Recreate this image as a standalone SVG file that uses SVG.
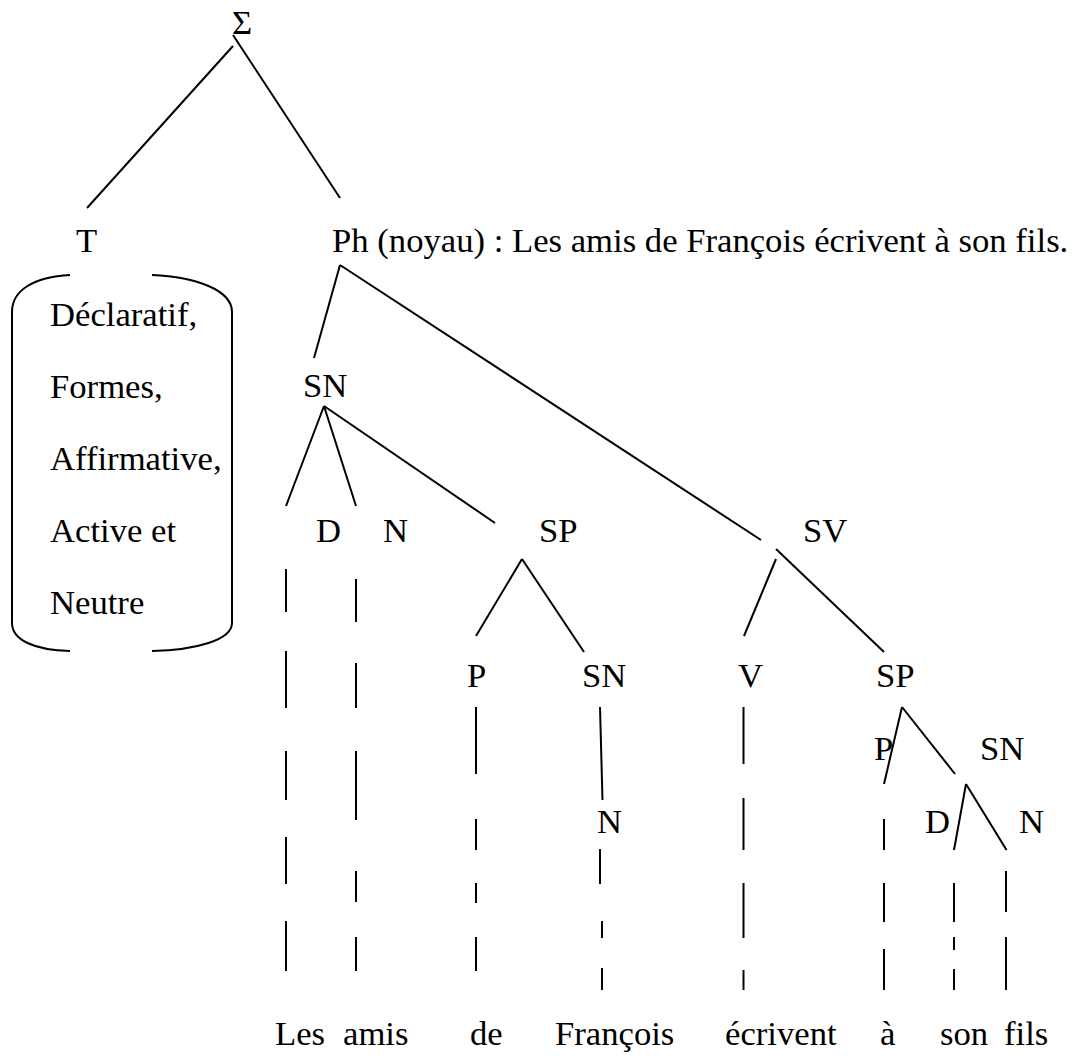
<svg xmlns="http://www.w3.org/2000/svg" width="1075" height="1061" viewBox="0 0 1075 1061">
  <style>
    text { font-family: "Liberation Serif", "Times New Roman", serif; font-size: 34.67px; fill: #000; }
    .edge { stroke: #000; stroke-width: 2; fill: none; stroke-linecap: butt; }
    .brace { stroke: #000; stroke-width: 2; fill: none; }
  </style>
  <rect width="1075" height="1061" fill="#fff"/>

  <!-- tree branches and dashed leaf links -->
  <g id="connectors">
    <line class="edge" x1="233" y1="46" x2="87" y2="208"/>
    <line class="edge" x1="233" y1="35" x2="340" y2="198"/>
    <line class="edge" x1="340" y1="265" x2="314" y2="358"/>
    <line class="edge" x1="340" y1="265" x2="761" y2="540"/>
    <line class="edge" x1="324" y1="406" x2="286" y2="506"/>
    <line class="edge" x1="324" y1="406" x2="356" y2="506"/>
    <line class="edge" x1="324" y1="406" x2="495" y2="523"/>
    <line class="edge" x1="522" y1="559" x2="476" y2="636"/>
    <line class="edge" x1="522" y1="559" x2="584" y2="652"/>
    <line class="edge" x1="776" y1="559" x2="744" y2="636"/>
    <line class="edge" x1="776" y1="549" x2="884" y2="652"/>
    <line class="edge" x1="600" y1="707" x2="602.5" y2="800"/>
    <line class="edge" x1="902" y1="707" x2="884" y2="784"/>
    <line class="edge" x1="902" y1="707" x2="955" y2="774"/>
    <line class="edge" x1="966" y1="784" x2="954" y2="850"/>
    <line class="edge" x1="966" y1="784" x2="1006.5" y2="850"/>

    <!-- leaf links, drawn as broken verticals -->
    <path class="edge" d="M286 569V612M286 651V708M286 751V800M286 837V884M286 921V971"/>
    <path class="edge" d="M356 579V622M356 663V708M356 751V820M356 871V902M356 937V971"/>
    <path class="edge" d="M476 707V774M476 819V850M476 883V903M476 937V971"/>
    <path class="edge" d="M600 849V884M602 921V938M602 968V990"/>
    <path class="edge" d="M743.5 707V764M743.5 798V850M743.5 883V938M743.5 970V990"/>
    <path class="edge" d="M884 819V850M884 883V922M884 949V990"/>
    <path class="edge" d="M954 883V922M954 937V950M954 969V990"/>
    <path class="edge" d="M1006 871V912M1006 937V990"/>
  </g>

  <g id="node-sigma"><text x="242" y="34" text-anchor="middle">Σ</text></g>
  <g id="node-t"><text x="76" y="252">T</text></g>
  <g id="node-ph"><text x="332" y="252">Ph (noyau) : Les amis de François écrivent à son fils.</text></g>

  <g id="node-t-features">
    <path class="brace" d="M70 275C34 277 12 290 12 312V623C12 640 34 650 70 651"/>
    <path class="brace" d="M152 275C196 277 232 290 232 312V623C232 640 196 650 152 651"/>
    <text x="50" y="326">Déclaratif,</text>
    <text x="50" y="398">Formes,</text>
    <text x="50" y="470">Affirmative,</text>
    <text x="50" y="542">Active et</text>
    <text x="50" y="614">Neutre</text>
  </g>

  <g id="node-sn1"><text x="303" y="397">SN</text></g>
  <g id="node-d1"><text x="316" y="542">D</text></g>
  <g id="node-n1"><text x="383" y="542">N</text></g>
  <g id="node-sp1"><text x="539" y="542">SP</text></g>
  <g id="node-sv"><text x="803" y="542">SV</text></g>
  <g id="node-p1"><text x="467" y="687">P</text></g>
  <g id="node-sn2"><text x="582" y="687">SN</text></g>
  <g id="node-v"><text x="738" y="687">V</text></g>
  <g id="node-sp2"><text x="876" y="687">SP</text></g>
  <g id="node-p2"><text x="874" y="760">P</text></g>
  <g id="node-sn3"><text x="980" y="760">SN</text></g>
  <g id="node-n2"><text x="597" y="833">N</text></g>
  <g id="node-d2"><text x="925" y="833">D</text></g>
  <g id="node-n3"><text x="1019" y="833">N</text></g>

  <g id="node-words">
    <text x="275" y="1045">Les</text>
    <text x="343" y="1045">amis</text>
    <text x="470" y="1045">de</text>
    <text x="555" y="1045">François</text>
    <text x="725" y="1045">écrivent</text>
    <text x="880" y="1045">à</text>
    <text x="940" y="1045">son</text>
    <text x="1004" y="1045">fils</text>
  </g>
</svg>
